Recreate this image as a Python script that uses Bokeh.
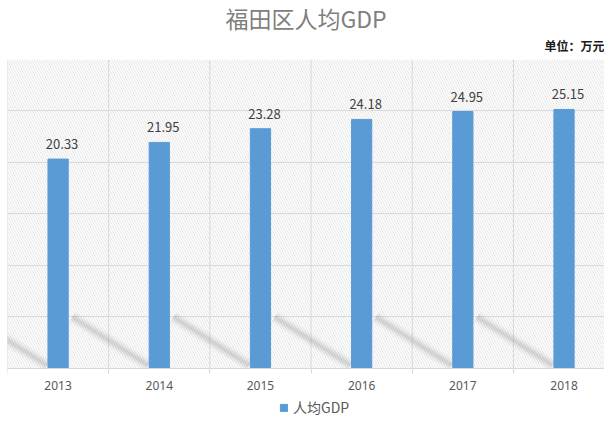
from bokeh.plotting import figure
from bokeh.models import (ColumnDataSource, FixedTicker, LabelSet, Legend, LegendItem,
                          BoxAnnotation, Title, Range1d)
from bokeh.core.properties import value
from bokeh.embed import file_html
from bokeh.resources import INLINE

years = ["2013", "2014", "2015", "2016", "2017", "2018"]
gdp = [20.33, 21.95, 23.28, 24.18, 24.95, 25.15]
title_text = "福田区人均GDP"
unit_text = "单位：万元"
series_name = "人均GDP"

xs = [i + 0.5 for i in range(len(years))]
bounds = list(range(len(years) + 1))
src = ColumnDataSource(dict(x=xs, top=gdp, label=[f"{v:.2f}" for v in gdp]))

FONT = "Noto Sans CJK SC"
XMAX = 5.9
YMAX = 30
YMIN = -4.76  # room under the axis for the category labels and the legend

p = figure(frame_width=597, frame_height=358, output_backend="svg", toolbar_location=None,
           x_range=Range1d(0, XMAX), y_range=Range1d(YMIN, YMAX),
           min_border_left=7, min_border_right=0, min_border_top=59, min_border_bottom=0)
p.title = None

t_unit = Title(text=unit_text, align="right", text_font=FONT, text_font_size="12px",
               text_color="#1a1a1a", text_font_style="bold", standoff=11)
t_main = Title(text=title_text, align="center", text_font=FONT, text_font_size="23px",
               text_color="#7f7f7f", text_font_style="normal", standoff=-10, offset=40)
p.add_layout(t_unit, "above")
p.add_layout(t_main, "above")

p.background_fill_color = "white"
p.border_fill_color = "white"
p.outline_line_color = None

hatch = BoxAnnotation(bottom=0, top=YMAX, fill_alpha=0, line_alpha=0,
                      hatch_pattern="left_diagonal_line", hatch_color="#dadada",
                      hatch_scale=5, hatch_weight=0.7, level="underlay")
p.add_layout(hatch)

# vertical separators between categories and horizontal grid
p.segment(x0=bounds, y0=[0] * len(bounds), x1=bounds, y1=[YMAX] * len(bounds),
          line_color="#d9d9d9", line_width=1, level="underlay")
p.xgrid.visible = False
p.ygrid.ticker = FixedTicker(ticks=[0, 5, 10, 15, 20, 25, 30])
p.ygrid.grid_line_color = "#d9d9d9"

# decorative diagonal shadows that fall towards each bar's foot
sx = [[c - 0.86, c - 0.11] for c in xs]
sy = [[5, 0.3] for _ in xs]
for w, a in [(13, 0.05), (9, 0.07), (6, 0.09), (3, 0.12)]:
    p.multi_line(sx, sy, line_color="#808080", line_alpha=a, line_width=w)

r = p.vbar(x="x", top="top", width=0.2, bottom=0, source=src, color="#5b9bd5")

labels = LabelSet(x="x", y="top", text="label", source=src, text_align="center",
                  text_baseline="middle", y_offset=15, x_offset=4, text_font=value(FONT),
                  text_font_size=value("13px"), text_color="#404040")
p.add_layout(labels)

p.xaxis.fixed_location = 0
p.xaxis.ticker = FixedTicker(ticks=xs, minor_ticks=bounds)
p.xaxis.major_label_overrides = {x: y for x, y in zip(xs, years)}
p.xaxis.major_tick_line_color = None
p.xaxis.major_tick_out = 0
p.xaxis.major_tick_in = 0
p.xaxis.minor_tick_line_color = "#d9d9d9"
p.xaxis.minor_tick_out = 5
p.xaxis.minor_tick_in = 0
p.xaxis.axis_line_color = "#d9d9d9"
p.xaxis.major_label_text_font = "Noto Sans"
p.xaxis.major_label_text_font_size = "12px"
p.xaxis.major_label_text_color = "#595959"
p.xaxis.major_label_standoff = 8

p.yaxis.visible = False

legend = Legend(items=[LegendItem(label=series_name, renderers=[r])],
                orientation="horizontal", location=(272, 0),
                label_text_font=FONT, label_text_font_size="14px",
                label_text_color="#595959", border_line_alpha=0,
                glyph_width=9, glyph_height=9, padding=0, margin=0,
                label_standoff=5, background_fill_alpha=0)
p.add_layout(legend)

open("out.html", "w").write(file_html(p, INLINE))
